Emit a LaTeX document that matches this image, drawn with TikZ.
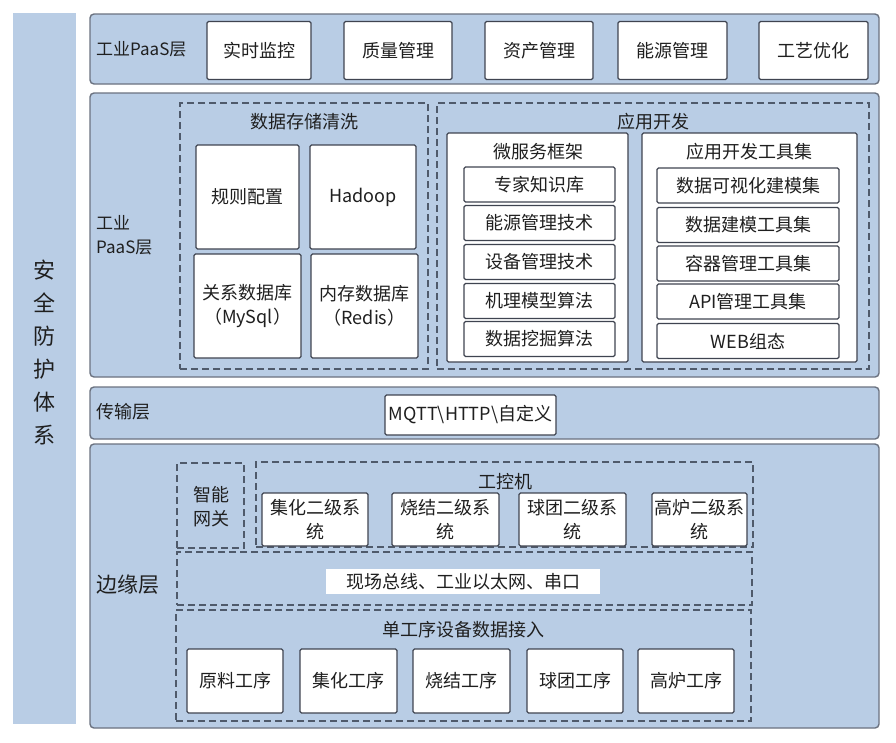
\documentclass[tikz,border=0pt]{standalone}
\usepackage{fontspec}
\setmainfont{Noto Sans CJK SC}
\newfontfamily\cjk{Noto Sans CJK SC}
\definecolor{layerblue}{HTML}{B9CDE5}
\definecolor{layerline}{HTML}{6B7280}
\definecolor{boxline}{HTML}{3F4450}
\definecolor{dashline}{HTML}{4F5A6B}
\definecolor{txt}{HTML}{1F1F1F}
\begin{document}
\begin{tikzpicture}[x=1pt,y=-1pt,
  layer/.style={draw=layerline,fill=layerblue,line width=1.4pt,rounded corners=4pt,inner sep=0pt},
  secbar/.style={fill=layerblue,inner sep=0pt},
  wbox/.style={draw=boxline,fill=white,line width=1.2pt,rounded corners=1.5pt,inner sep=0pt,align=center,text=txt,font=\cjk\fontsize{18}{24}\selectfont},
  plainw/.style={fill=white,inner sep=0pt,align=center,text=txt,font=\cjk\fontsize{18}{24}\selectfont},
  dbox/.style={draw=dashline,line width=1.4pt,dash pattern=on 7pt off 4pt,inner sep=0pt},
  lbl/.style={inner sep=0pt,text=txt,align=center,font=\cjk\fontsize{18}{24}\selectfont},
  llbl/.style={lbl,anchor=west,align=left}]
\useasboundingbox (0,0) rectangle (896,742);
\fill[white] (0,0) rectangle (896,742);
% security bar
\node[secbar,minimum width=63,minimum height=711] (sec) at (44.5,368.5) {};
\node[lbl,font=\cjk\fontsize{22}{33}\selectfont] (sect) at (44,352) {安\\全\\防\\护\\体\\系};
% layers
\node[layer,minimum width=789,minimum height=70] (L1) at (484.5,49) {};
\node[layer,minimum width=789,minimum height=284] (L2) at (484.5,235) {};
\node[layer,minimum width=789,minimum height=52] (L3) at (484.5,413) {};
\node[layer,minimum width=789,minimum height=284] (L4) at (484.5,586) {};
% layer labels
\node[llbl,font=\cjk\fontsize{17}{24}\selectfont] (l1t) at (96,49) {工业PaaS层};
\node[llbl,font=\cjk\fontsize{17}{24}\selectfont] (l2t) at (96,235) {工业\\PaaS层};
\node[llbl] (l3t) at (96,412) {传输层};
\node[llbl,font=\cjk\fontsize{21}{26}\selectfont] (l4t) at (96,585) {边缘层};
% top boxes
\node[wbox,minimum width=104,minimum height=58] (a1) at (259,50.5) {实时监控};
\node[wbox,minimum width=108,minimum height=58] (a2) at (398,50.5) {质量管理};
\node[wbox,minimum width=108,minimum height=58] (a3) at (539,50.5) {资产管理};
\node[wbox,minimum width=109,minimum height=58] (a4) at (672.5,50.5) {能源管理};
\node[wbox,minimum width=109,minimum height=58] (a5) at (813.5,50.5) {工艺优化};
% data storage
\node[dbox,minimum width=248,minimum height=266] (ds) at (304,236) {};
\node[lbl] (dst) at (304,122) {数据存储清洗};
\node[wbox,minimum width=103,minimum height=104] (b1) at (247.5,197) {规则配置};
\node[wbox,minimum width=106,minimum height=104] (b2) at (363,197) {Hadoop};
\node[wbox,minimum width=107,minimum height=104] (b3) at (247.5,306) {关系数据库\\（MySql）};
\node[wbox,minimum width=107,minimum height=104] (b4) at (364.5,306) {内存数据库\\（Redis）};
% app dev
\node[dbox,minimum width=432,minimum height=266] (ad) at (653,236) {};
\node[lbl] (adt) at (653,122) {应用开发};
\node[wbox,minimum width=181,minimum height=229] (ms) at (537.5,247.5) {};
\node[lbl] (mst) at (538,152) {微服务框架};
\node[wbox,minimum width=151,minimum height=35] (m1) at (539.5,184.5) {专家知识库};
\node[wbox,minimum width=151,minimum height=35] (m2) at (539.5,223) {能源管理技术};
\node[wbox,minimum width=151,minimum height=35] (m3) at (539.5,262) {设备管理技术};
\node[wbox,minimum width=151,minimum height=35] (m4) at (539.5,301) {机理模型算法};
\node[wbox,minimum width=151,minimum height=35] (m5) at (539.5,339) {数据挖掘算法};
\node[wbox,minimum width=215,minimum height=229] (tk) at (749.5,247.5) {};
\node[lbl] (tkt) at (749.5,152) {应用开发工具集};
\node[wbox,minimum width=182,minimum height=35] (t1) at (748,185.5) {数据可视化建模集};
\node[wbox,minimum width=182,minimum height=35] (t2) at (748,225) {数据建模工具集};
\node[wbox,minimum width=182,minimum height=35] (t3) at (748,263.5) {容器管理工具集};
\node[wbox,minimum width=182,minimum height=35] (t4) at (748,301.5) {API管理工具集};
\node[wbox,minimum width=182,minimum height=35] (t5) at (748,341) {WEB组态};
% transport
\node[wbox,minimum width=171,minimum height=40] (mq) at (470.5,415) {MQTT\textbackslash HTTP\textbackslash 自定义};
% edge layer
\node[dbox,minimum width=67,minimum height=85] (gw) at (210.5,505.5) {};
\node[lbl] (gwt) at (211,507) {智能\\网关};
\node[dbox,minimum width=497,minimum height=85] (ipc) at (504.5,504.5) {};
\node[lbl] (ipct) at (505,482) {工控机};
\node[wbox,minimum width=106,minimum height=53] (c1) at (315,519.5) {集化二级系\\统};
\node[wbox,minimum width=107,minimum height=53] (c2) at (445.5,519.5) {烧结二级系\\统};
\node[wbox,minimum width=107,minimum height=53] (c3) at (572.5,519.5) {球团二级系\\统};
\node[wbox,minimum width=95,minimum height=53] (c4) at (699.5,519.5) {高炉二级系\\统};
\node[dbox,minimum width=575,minimum height=53] (fb) at (464.5,578.5) {};
\node[plainw,minimum width=274,minimum height=25] (fbt) at (463,581.5) {现场总线、工业以太网、串口};
\node[dbox,minimum width=575,minimum height=111] (sp) at (463.5,665.5) {};
\node[lbl] (spt) at (463,630) {单工序设备数据接入};
\node[wbox,minimum width=96,minimum height=64] (p1) at (235,681) {原料工序};
\node[wbox,minimum width=97,minimum height=64] (p2) at (348.5,681) {集化工序};
\node[wbox,minimum width=97,minimum height=64] (p3) at (461.5,681) {烧结工序};
\node[wbox,minimum width=96,minimum height=64] (p4) at (575,681) {球团工序};
\node[wbox,minimum width=96,minimum height=64] (p5) at (686,681) {高炉工序};
\end{tikzpicture}
\end{document}
